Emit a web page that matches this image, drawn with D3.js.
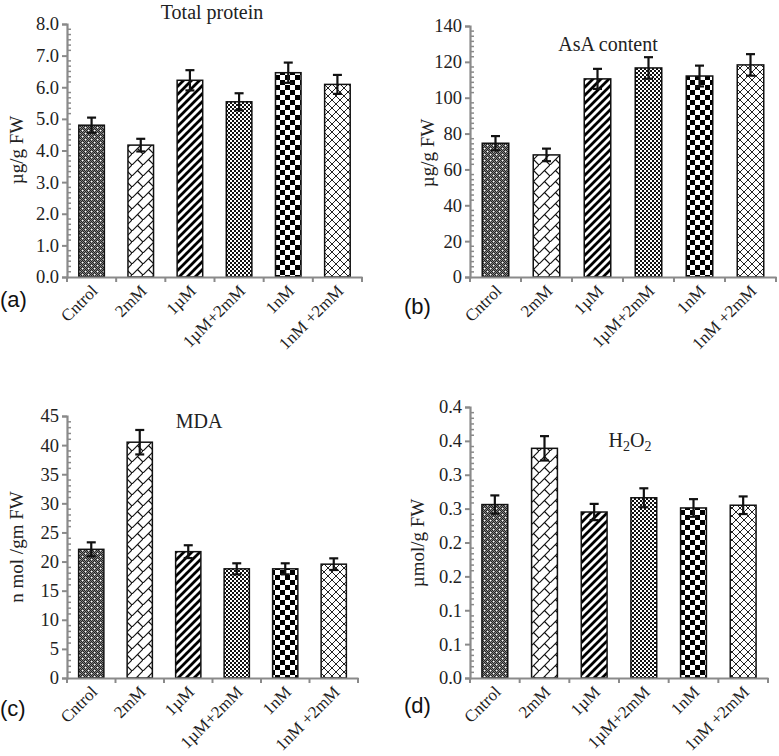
<!DOCTYPE html>
<html>
<head>
<meta charset="utf-8">
<script src="https://cdn.jsdelivr.net/npm/d3@7"></script>
<style>
  html, body { margin: 0; padding: 0; background: #fff; }
  svg { display: block; }
  .serif { font-family: "Liberation Serif", "Times New Roman", serif; fill: #222; }
  .panel-tag { font-family: "Liberation Sans", Arial, sans-serif; font-size: 22px; fill: #111; }
</style>
</head>
<body>
<div id="chart"></div>
<script>
// Treatments along the x axis (same for all four panels)
const categories = ["Cntrol", "2mM", "1µM", "1µM+2mM", "1nM", "1nM +2mM"];

// (a) Total protein, µg/g FW
const proteinValues = [4.80, 4.17, 6.22, 5.54, 6.46, 6.09];
const proteinErrors = [0.24, 0.20, 0.32, 0.27, 0.32, 0.30];
const proteinTicks = [0, 1, 2, 3, 4, 5, 6, 7, 8];
const proteinTickLabels = ["0.0", "1.0", "2.0", "3.0", "4.0", "5.0", "6.0", "7.0", "8.0"];

// (b) AsA content, µg/g FW
const asaValues = [74.6, 68.1, 110.5, 116.6, 112.1, 118.3];
const asaErrors = [4.0, 3.5, 5.6, 6.0, 5.8, 6.0];
const asaTicks = [0, 20, 40, 60, 80, 100, 120, 140];
const asaTickLabels = ["0", "20", "40", "60", "80", "100", "120", "140"];

// (c) MDA, n mol /gm FW
const mdaValues = [22.1, 40.5, 21.7, 18.75, 18.75, 19.55];
const mdaErrors = [1.2, 2.1, 1.1, 0.95, 0.95, 1.0];
const mdaTicks = [0, 5, 10, 15, 20, 25, 30, 35, 40, 45];
const mdaTickLabels = ["0", "5", "10", "15", "20", "25", "30", "35", "40", "45"];

// (d) H2O2, µmol/g FW (the original axis rounds its 0.05 steps to one decimal)
const h2o2Values = [0.256, 0.339, 0.245, 0.266, 0.251, 0.255];
const h2o2Errors = [0.0135, 0.018, 0.012, 0.014, 0.013, 0.013];
const h2o2Ticks = [0, 0.05, 0.10, 0.15, 0.20, 0.25, 0.30, 0.35, 0.40];
const h2o2TickLabels = ["0.0", "0.1", "0.1", "0.2", "0.2", "0.3", "0.3", "0.4", "0.4"];

const patternIds = ["pat-dots", "pat-brick", "pat-stripe", "pat-fine", "pat-check", "pat-cross"];

const width = 779, height = 756;
const axisColor = "#8a8a8a";

const svg = d3.select("#chart").append("svg")
  .attr("width", width)
  .attr("height", height);

// ---- fill patterns (one per treatment) ----
const defs = svg.append("defs");

function makePattern(id, size) {
  return defs.append("pattern")
    .attr("id", id)
    .attr("patternUnits", "userSpaceOnUse")
    .attr("width", size)
    .attr("height", size);
}

// dark fine checker with white specks
{
  const p = makePattern("pat-dots", 6);
  p.append("rect").attr("width", 6).attr("height", 6).attr("fill", "#808080");
  for (let i = 0; i < 6; i++) {
    for (let j = 0; j < 6; j++) {
      if ((i + j) % 2 === 0) p.append("rect").attr("x", i).attr("y", j).attr("width", 1).attr("height", 1).attr("fill", "#222");
    }
  }
  p.append("rect").attr("x", 1).attr("y", 1).attr("width", 1.3).attr("height", 1.3).attr("fill", "#fff");
  p.append("rect").attr("x", 4).attr("y", 4).attr("width", 1.3).attr("height", 1.3).attr("fill", "#fff");
}
// diagonal brick
{
  const p = makePattern("pat-brick", 11);
  p.append("rect").attr("width", 11).attr("height", 11).attr("fill", "#fff");
  p.append("path").attr("d", "M0,11 L11,0 M5.5,5.5 L11,11")
    .attr("stroke", "#111").attr("stroke-width", 1.2).attr("fill", "none");
}
// wide diagonal stripes
{
  const p = makePattern("pat-stripe", 8);
  p.append("rect").attr("width", 8).attr("height", 8).attr("fill", "#fff");
  p.append("path").attr("d", "M-2,2 L2,-2 M0,8 L8,0 M6,10 L10,6")
    .attr("stroke", "#000").attr("stroke-width", 2.8).attr("fill", "none");
}
// fine checkerboard
{
  const p = makePattern("pat-fine", 4);
  p.append("rect").attr("width", 4).attr("height", 4).attr("fill", "#fff");
  p.append("rect").attr("width", 2).attr("height", 2).attr("fill", "#111");
  p.append("rect").attr("x", 2).attr("y", 2).attr("width", 2).attr("height", 2).attr("fill", "#111");
}
// large checkerboard
{
  const p = makePattern("pat-check", 10);
  p.append("rect").attr("width", 10).attr("height", 10).attr("fill", "#fff");
  p.append("rect").attr("width", 5).attr("height", 5).attr("fill", "#000");
  p.append("rect").attr("x", 5).attr("y", 5).attr("width", 5).attr("height", 5).attr("fill", "#000");
}
// diagonal cross-hatch
{
  const p = makePattern("pat-cross", 8);
  p.append("rect").attr("width", 8).attr("height", 8).attr("fill", "#fff");
  p.append("path").attr("d", "M0,0 L8,8 M8,0 L0,8")
    .attr("stroke", "#222").attr("stroke-width", 1).attr("fill", "none");
}

// ---- panel layout ----
const panels = [
  {
    tag: "(a)", tagX: 0, tagY: 307,
    title: "Total protein", titleX: 212, titleY: 19,
    yTitle: "µg/g FW", yTitleX: 16, yTitleY: 150,
    values: proteinValues, errors: proteinErrors,
    ticks: proteinTicks, tickLabels: proteinTickLabels, minorSteps: 6,
    left: 67, right: 362, top: 24, bottom: 277
  },
  {
    tag: "(b)", tagX: 404, tagY: 314,
    title: "AsA content", titleX: 608, titleY: 51,
    yTitle: "µg/g FW", yTitleX: 427, yTitleY: 153,
    values: asaValues, errors: asaErrors,
    ticks: asaTicks, tickLabels: asaTickLabels, minorSteps: 7,
    left: 470, right: 776, top: 26, bottom: 277
  },
  {
    tag: "(c)", tagX: 0, tagY: 716,
    title: "MDA", titleX: 199, titleY: 428,
    yTitle: "n mol /gm FW", yTitleX: 16, yTitleY: 547,
    values: mdaValues, errors: mdaErrors,
    ticks: mdaTicks, tickLabels: mdaTickLabels, minorSteps: 5,
    left: 67, right: 358, top: 416, bottom: 678
  },
  {
    tag: "(d)", tagX: 404, tagY: 713,
    title: "H2O2", titleX: 630, titleY: 447,
    yTitle: "µmol/g FW", yTitleX: 417, yTitleY: 543,
    values: h2o2Values, errors: h2o2Errors,
    ticks: h2o2Ticks, tickLabels: h2o2TickLabels, minorSteps: 6,
    left: 470, right: 768, top: 407, bottom: 678
  }
];

panels.forEach(drawPanel);

function drawPanel(cfg) {
  const g = svg.append("g");
  const maxTick = d3.max(cfg.ticks);

  const x = d3.scaleBand().domain(categories).range([cfg.left, cfg.right]);
  const y = d3.scaleLinear().domain([0, maxTick]).range([cfg.bottom, cfg.top]);
  const barW = x.bandwidth() * 0.52;

  const rows = categories.map((c, i) => ({ cat: c, v: cfg.values[i], e: cfg.errors[i], pat: patternIds[i] }));

  // bars
  g.selectAll("rect.bar").data(rows).join("rect")
    .attr("class", "bar")
    .attr("x", (d) => x(d.cat) + (x.bandwidth() - barW) / 2)
    .attr("y", (d) => y(d.v))
    .attr("width", barW)
    .attr("height", (d) => y(0) - y(d.v))
    .attr("fill", (d) => `url(#${d.pat})`)
    .attr("stroke", "#111")
    .attr("stroke-width", 1.5);

  // error bars
  const eb = g.selectAll("g.err").data(rows).join("g").attr("class", "err")
    .attr("stroke", "#111").attr("stroke-width", 2.2);
  const cx = (d) => x(d.cat) + x.bandwidth() / 2;
  eb.append("line")
    .attr("x1", cx).attr("x2", cx)
    .attr("y1", (d) => y(d.v + d.e)).attr("y2", (d) => y(d.v - d.e));
  eb.append("line")
    .attr("x1", (d) => cx(d) - 4.5).attr("x2", (d) => cx(d) + 4.5)
    .attr("y1", (d) => y(d.v + d.e)).attr("y2", (d) => y(d.v + d.e));
  eb.append("line")
    .attr("x1", (d) => cx(d) - 4.5).attr("x2", (d) => cx(d) + 4.5)
    .attr("y1", (d) => y(d.v - d.e)).attr("y2", (d) => y(d.v - d.e));

  // y axis: major ticks out to the left, labels from the tick label list
  const yAxis = d3.axisLeft(y)
    .tickValues(cfg.ticks)
    .tickSize(5)
    .tickPadding(3)
    .tickFormat((d, i) => cfg.tickLabels[i]);
  const yG = g.append("g").attr("transform", `translate(${cfg.left},0)`).call(yAxis);
  yG.select(".domain").attr("stroke", axisColor).attr("stroke-width", 2.2);
  yG.selectAll(".tick line").attr("stroke", axisColor).attr("stroke-width", 2);
  yG.selectAll(".tick text").attr("class", "serif").attr("font-size", 18.5).attr("fill", "#222");

  // minor ticks on the inside of the y axis
  const minor = [];
  const step = cfg.ticks[1] - cfg.ticks[0];
  for (let k = 0; k < cfg.ticks.length - 1; k++) {
    for (let m = 1; m < cfg.minorSteps; m++) minor.push(cfg.ticks[k] + (step * m) / cfg.minorSteps);
  }
  g.append("g").selectAll("line").data(minor).join("line")
    .attr("x1", cfg.left).attr("x2", cfg.left + 4)
    .attr("y1", (d) => y(d)).attr("y2", (d) => y(d))
    .attr("stroke", axisColor).attr("stroke-width", 1.5);

  // x axis: ticks between categories, rotated labels
  const xAxis = d3.axisBottom(x).tickSize(0).tickFormat("");
  const xG = g.append("g").attr("transform", `translate(0,${cfg.bottom})`).call(xAxis);
  xG.select(".domain").attr("stroke", axisColor).attr("stroke-width", 2.2);

  const bounds = categories.map((c) => x(c)).concat([cfg.right]);
  g.append("g").selectAll("line").data(bounds).join("line")
    .attr("x1", (d) => d).attr("x2", (d) => d)
    .attr("y1", cfg.bottom).attr("y2", cfg.bottom + 5)
    .attr("stroke", axisColor).attr("stroke-width", 2);

  g.append("g").selectAll("text").data(categories).join("text")
    .attr("class", "serif")
    .attr("font-size", 17)
    .attr("text-anchor", "end")
    .attr("transform", (d) => `translate(${x(d) + x.bandwidth() / 2 + 7},${cfg.bottom + 15}) rotate(-45)`)
    .text((d) => d);

  // titles
  const title = g.append("text")
    .attr("class", "serif")
    .attr("font-size", 20)
    .attr("text-anchor", "middle")
    .attr("x", cfg.titleX)
    .attr("y", cfg.titleY);
  if (cfg.title === "H2O2") {
    title.append("tspan").text("H");
    title.append("tspan").attr("font-size", 14).attr("dy", 4).text("2");
    title.append("tspan").attr("dy", -4).text("O");
    title.append("tspan").attr("font-size", 14).attr("dy", 4).text("2");
  } else {
    title.text(cfg.title);
  }

  g.append("text")
    .attr("class", "serif")
    .attr("font-size", 19)
    .attr("text-anchor", "middle")
    .attr("dy", "0.35em")
    .attr("transform", `translate(${cfg.yTitleX},${cfg.yTitleY}) rotate(-90)`)
    .text(cfg.yTitle);

  g.append("text")
    .attr("class", "panel-tag")
    .attr("x", cfg.tagX)
    .attr("y", cfg.tagY)
    .text(cfg.tag);
}
</script>
</body>
</html>
